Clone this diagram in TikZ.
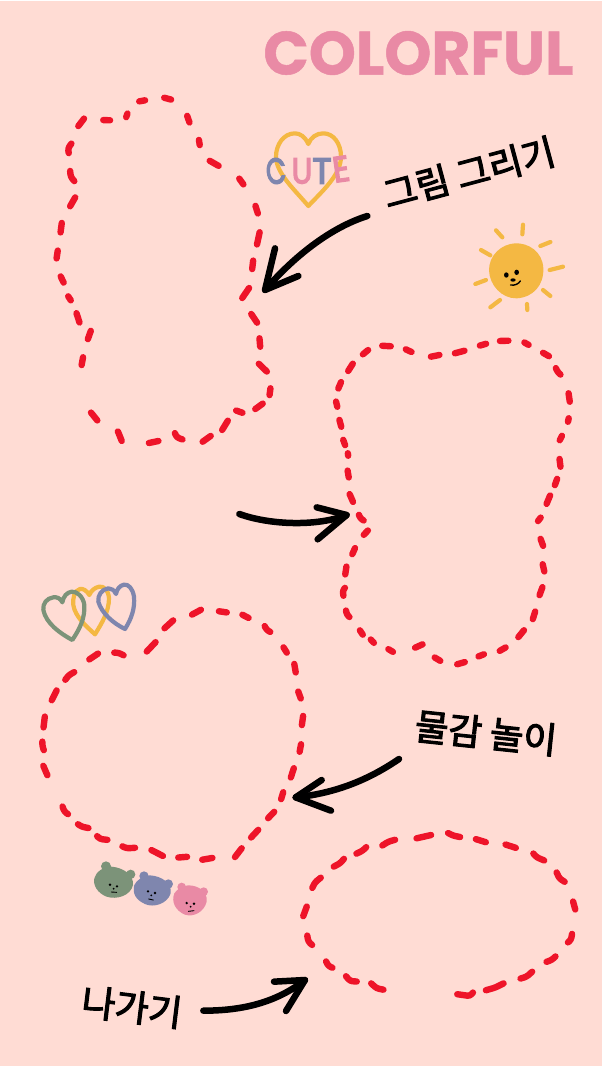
\documentclass[tikz,border=0pt]{standalone}
\usepackage{fontspec}
\newfontfamily\krfont[FakeBold=3]{Noto Sans CJK KR}
\newfontfamily\titlefont[BoldFeatures={FakeBold=0.8}]{Poppins}
\newfontfamily\cutefont[FakeBold=4]{Poppins}
\definecolor{bgpink}{HTML}{FFDCD4}
\definecolor{dashred}{HTML}{EE1429}
\definecolor{rosepink}{HTML}{E98AA5}
\definecolor{sunyellow}{HTML}{F4B843}
\definecolor{slateblue}{HTML}{7F86AE}
\definecolor{sagegreen}{HTML}{7C9379}
\tikzset{
  reddash/.style={draw=dashred,line width=6.4pt,line cap=round,line join=round,rounded corners=2.5pt,shorten <=1.6pt,shorten >=1.6pt},
  inkarrow/.style={draw=black,line width=6.5pt,line cap=round,line join=round},
  label/.style={inner sep=0pt,font=\krfont\fontsize{36.5}{36.5}\selectfont},
  heartline/.style={line width=4.2pt,line join=round,line cap=round},
  ray/.style={draw=sunyellow,line width=4.2pt,line cap=round},
  cute/.style={inner sep=0pt,font=\cutefont\fontsize{36}{36}\selectfont},
  facedot/.style={fill=black,draw=none},
  faceline/.style={draw=black,line width=0.9pt,line cap=round},
}
\newcommand{\reddashes}[1]{\foreach \p in {#1} {\draw[reddash] \p;}}
\begin{document}
\begin{tikzpicture}[x=1pt,y=-1pt]
\useasboundingbox (0,0) rectangle (612,1066);
\fill[white] (0,0) rectangle (612,1066);
\fill[bgpink] (0,1) rectangle (602,1066);

% title
\node[inner sep=0pt,text=rosepink,font=\titlefont\bfseries\fontsize{61}{61}\selectfont,xscale=0.98] (title) at (418.5,53) {COLORFUL};

% outline 1
\begin{scope}[shift={(40,90)},x=0.33333pt,y=-0.33333pt]
\reddashes{{(135,82)--(112,112)},{(185,90)--(215,91)},{(264,66)--(257,86)},{(293,35)--(320,30)},{(368,22)--(398,30)},
 {(440,73)--(450,102)},{(476,145)--(480,170)},{(505,210)--(540,230)},{(595,262)--(613,287)},{(645,343)--(655,375)},
 {(660,422)--(650,468)},{(640,507)--(636,542)},{(630,590)--(604,628)},{(631,668)--(654,702)},{(658,740)--(661,775)},
 {(653,818)--(684,848)},{(692,890)--(688,920)},{(672,938)--(642,960)},{(584,960)--(612,970)},{(566,988)--(544,1024)},
 {(516,1035)--(484,1058)},{(403,1025)--(410,1042)--(432,1050)},{(360,1052)--(322,1060)},{(232,1020)--(247,1057)},
 {(150,964)--(175,995)},{(124,830)--(130,797)},{(154,718)--(142,752)},{(108,665)--(120,702)},{(82,615)--(95,635)},
 {(60,555)--(73,582)},{(54,477)--(49,510)},{(66,394)--(61,432)},{(108,318)--(88,353)},{(90,238)--(92,260)--(106,277)},
 {(97,157)--(84,175)--(87,194)}}
\end{scope}

% outline 2
\begin{scope}[shift={(325,330)},x=0.33333pt,y=-0.33333pt]
\reddashes{{(110,76)--(133,57)},{(167,47)--(202,49)},{(238,56)--(264,68)},{(313,81)--(348,74)},{(385,71)--(423,61)},
 {(460,48)--(488,40)},{(520,33)--(555,32)},{(594,35)--(615,47)},{(650,66)--(676,81)},{(691,110)--(697,125)--(710,137)},
 {(730,185)--(735,220)},{(732,260)--(728,280)},{(713,313)--(702,335)},{(703,382)--(707,415)},{(698,442)--(688,470)},
 {(677,492)--(663,526)},{(650,559)--(636,577)},{(645,622)--(656,652)},{(652,698)--(659,729)},{(654,767)--(642,800)},
 {(632,840)--(622,872)},{(600,897)--(577,925)},{(546,950)--(520,965)},{(481,971)--(456,981)},{(424,995)--(392,1004)},
 {(350,995)--(325,980)},{(297,941)--(266,955)},{(208,968)--(186,955)},{(150,942)--(134,925)},{(116,918)--(102,897)},
 {(77,864)--(66,855)--(62,837)},{(63,770)--(53,782)--(56,802)},{(65,705)--(60,738)},{(92,650)--(80,677)},
 {(132,598)--(113,618)},{(120,574)--(106,565)--(100,550)},{(86,520)--(72,488)},{(72,447)--(67,417)},{(70,382)--(68,365)},
 {(62,350)--(53,325)},{(50,295)--(42,265)},{(38,235)--(32,210)},{(50,152)--(38,180)},{(86,97)--(67,127)}}
\end{scope}

% outline 3
\begin{scope}[shift={(30,600)},x=0.33333pt,y=-0.33333pt]
\reddashes{{(517,27)--(482,46)},{(562,33)--(595,38)},{(633,42)--(660,56)},{(702,74)--(710,90)--(725,98)},
 {(758,138)--(773,162)},{(792,187)--(798,222)},{(803,270)--(814,300)},{(820,343)--(815,380)},{(814,428)--(808,460)},
 {(793,500)--(781,537)},{(761,572)--(752,602)},{(736,632)--(711,658)},{(688,686)--(660,716)},{(638,741)--(612,775)},
 {(552,773)--(512,780)},{(476,770)--(440,773)},{(403,770)--(360,748)},{(320,743)--(290,745)--(273,737)},
 {(237,720)--(210,717)--(198,705)},{(180,685)--(155,680)--(140,670)},{(118,645)--(103,635)--(96,615)},
 {(54,530)--(38,493)},{(43,455)--(37,437)--(37,420)},{(40,387)--(45,345)},{(82,267)--(63,305)},
 {(137,214)--(117,225)--(103,243)},{(208,158)--(174,181)},{(248,158)--(265,158)--(285,168)},{(380,123)--(347,158)},
 {(433,58)--(400,88)}}
\end{scope}

% outline 4
\begin{scope}[shift={(290,820)},x=0.33333pt,y=-0.33333pt]
\reddashes{{(52,255)--(38,293)},{(96,170)--(75,187)--(65,208)},{(165,113)--(150,130)--(127,142)},
 {(232,78)--(218,92)--(195,103)},{(320,58)--(295,65)--(273,79)},{(428,44)--(375,56)},{(470,37)--(490,47)--(515,52)},
 {(553,56)--(592,68)},{(642,72)--(682,85)},{(727,97)--(740,112)--(767,123)},{(798,153)--(808,175)--(828,188)},
 {(848,240)--(857,273)},{(847,337)--(843,360)--(830,370)},{(800,406)--(785,420)--(765,427)},
 {(730,452)--(710,470)--(687,477)},{(645,488)--(615,503)--(583,512)},{(552,514)--(540,528)--(497,522)},
 {(285,510)--(260,505)--(240,487)},{(205,485)--(180,483)--(165,465)},{(132,445)--(115,438)--(106,420)},
 {(70,378)--(55,365)--(51,342)}}
\end{scope}

% arrow 1
\begin{scope}[shift={(240,0)},x=0.33333pt,y=-0.33333pt]
\coordinate (a1tail) at (382,648); \coordinate (a1tip) at (75,870);
\coordinate (a1l) at (105,745); \coordinate (a1r) at (175,828);
\draw[inkarrow] (a1tail) .. controls (280,680) and (170,760) .. (a1tip);
\draw[inkarrow] (a1l) -- (a1tip) -- (a1r);
\end{scope}
% arrow 2
\begin{scope}[shift={(230,490)},x=0.33333pt,y=-0.33333pt]
\coordinate (a2tail) at (28,72); \coordinate (a2tip) at (350,75);
\coordinate (a2l) at (260,52); \coordinate (a2r) at (263,148);
\draw[inkarrow] (a2tail) .. controls (120,105) and (260,110) .. (a2tip);
\draw[inkarrow] (a2l) -- (a2tip) -- (a2r);
\end{scope}
% arrow 3
\begin{scope}[shift={(285,700)},x=0.33333pt,y=-0.33333pt]
\coordinate (a3tail) at (342,177); \coordinate (a3tip) at (32,292);
\coordinate (a3l) at (110,240); \coordinate (a3r) at (138,332);
\draw[inkarrow] (a3tail) .. controls (250,240) and (150,280) .. (a3tip);
\draw[inkarrow] (a3l) -- (a3tip) -- (a3r);
\end{scope}
% arrow 4
\begin{scope}[shift={(60,950)},x=0.33333pt,y=-0.33333pt]
\coordinate (a4tail) at (430,182); \coordinate (a4tip) at (735,90);
\coordinate (a4l) at (642,95); \coordinate (a4r) at (678,183);
\draw[inkarrow] (a4tail) .. controls (530,182) and (640,165) .. (a4tip);
\draw[inkarrow] (a4l) -- (a4tip) -- (a4r);
\end{scope}

% labels
\node[label,rotate=15] (lab1) at (469,173) {그림 그리기};
\node[label,rotate=-6] (lab2) at (486,733) {물감 놀이};
\node[label,rotate=-7] (lab3) at (132,1007) {나가기};

% heart with CUTE
\begin{scope}[shift={(240,0)},x=0.33333pt,y=-0.33333pt]
\draw[heartline,draw=sunyellow] (205,432) .. controls (195,410) and (180,400) .. (165,400)
 .. controls (130,400) and (108,435) .. (108,470)
 .. controls (108,520) and (165,570) .. (205,618)
 .. controls (245,575) and (303,525) .. (303,470)
 .. controls (303,430) and (280,400) .. (250,400)
 .. controls (230,400) and (212,412) .. cycle;
\end{scope}
\node[cute,text=slateblue,rotate=4,xscale=0.72] (cc) at (276,171) {C};
\node[cute,text=rosepink,xscale=0.85] (cu) at (302,171) {U};
\node[cute,text=slateblue] (ct) at (322,171) {T};
\node[cute,text=rosepink,rotate=8,xscale=0.9] (ce) at (341,169) {E};

% three hearts
\begin{scope}[shift={(30,570)},x=0.33333pt,y=-0.33333pt]
\draw[heartline,draw=sunyellow] (178,75) .. controls (170,62) and (160,55) .. (150,57)
 .. controls (132,62) and (128,85) .. (130,105)
 .. controls (135,140) and (170,170) .. (195,193)
 .. controls (215,160) and (237,125) .. (237,85)
 .. controls (235,60) and (222,48) .. (208,50) .. controls (195,52) and (183,62) .. cycle;
\draw[heartline,draw=sagegreen] (97,97) .. controls (92,85) and (80,80) .. (70,82)
 .. controls (50,85) and (38,100) .. (40,120)
 .. controls (48,160) and (90,190) .. (127,210)
 .. controls (150,175) and (165,145) .. (163,105)
 .. controls (160,80) and (140,63) .. (125,65) .. controls (110,67) and (100,80) .. cycle;
\draw[heartline,draw=slateblue] (258,72) .. controls (252,60) and (245,55) .. (235,55)
 .. controls (215,58) and (203,75) .. (205,95)
 .. controls (215,130) and (250,160) .. (285,177)
 .. controls (305,145) and (315,115) .. (312,80)
 .. controls (308,55) and (295,42) .. (282,44) .. controls (270,46) and (260,58) .. cycle;
\end{scope}

% sun
\begin{scope}[shift={(470,220)},x=0.33333pt,y=-0.33333pt]
\fill[sunyellow] (135,70) .. controls (175,68) and (218,95) .. (220,145)
 .. controls (222,195) and (190,232) .. (140,235)
 .. controls (95,236) and (58,195) .. (57,150)
 .. controls (57,105) and (95,72) .. cycle;
\draw[ray] (78,31)--(97,52) (159,14)--(157,43) (211,78)--(241,66) (239,150)--(279,140)
 (219,210)--(241,228) (171,252)--(172,270) (61,262)--(90,240) (16,192)--(48,180) (33,90)--(61,106);
\fill[facedot] (109,165) ellipse (7 and 8);
\fill[facedot] (140,157) ellipse (7 and 8);
\fill[facedot] (129,180) ellipse (8 and 5);
\draw[faceline,line width=1.4pt] (122,195) .. controls (135,197) and (145,192) .. (151,183);
\end{scope}

% bears
\begin{scope}[shift={(70,850)},x=0.33333pt,y=-0.33333pt]
% green
\fill[sagegreen] (108,49) circle (15) (182,73) circle (14);
\fill[sagegreen] (125,50) .. controls (160,53) and (192,75) .. (189,105)
 .. controls (182,137) and (140,150) .. (110,140)
 .. controls (83,130) and (68,105) .. (73,85) .. controls (78,65) and (100,50) .. cycle;
\fill[facedot] (120,104) circle (4) (141,109) circle (4) (131,116) circle (3);
\draw[faceline] (124,126) -- (140,127);
% blue
\fill[slateblue] (222,78) circle (14) (295,102) circle (14);
\fill[slateblue] (240,76) .. controls (275,78) and (307,100) .. (302,130)
 .. controls (292,162) and (250,174) .. (225,162)
 .. controls (198,150) and (186,130) .. (193,105) .. controls (200,90) and (220,76) .. cycle;
\fill[facedot] (234,124) circle (4) (255,129) circle (4) (244,136) circle (3);
\draw[faceline] (236,147) -- (250,150);
% pink
\fill[rosepink] (335,111) circle (13) (401,125) circle (13);
\fill[rosepink] (355,106) .. controls (385,106) and (414,125) .. (410,155)
 .. controls (402,187) and (370,202) .. (345,194)
 .. controls (316,182) and (303,155) .. (313,130) .. controls (320,118) and (340,106) .. cycle;
\fill[facedot] (350,159) circle (4) (372,161) circle (4) (362,170) circle (3);
\draw[faceline] (355,184) -- (372,182);
\end{scope}
\end{tikzpicture}
\end{document}
